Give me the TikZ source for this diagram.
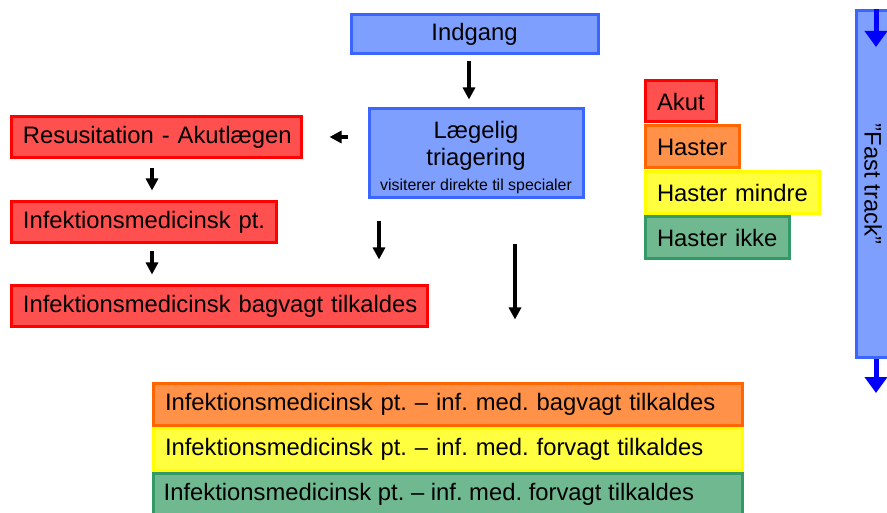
\documentclass[tikz,border=0pt]{standalone}
\usepackage{fontspec}
\setmainfont{Liberation Sans}
\usetikzlibrary{arrows.meta}
\definecolor{bfill}{HTML}{7F9FFF}
\definecolor{bdraw}{HTML}{3A66FF}
\definecolor{rfill}{HTML}{FF5050}
\definecolor{rdraw}{HTML}{FF0000}
\definecolor{ofill}{HTML}{FF9148}
\definecolor{odraw}{HTML}{FF6600}
\definecolor{yfill}{HTML}{FFFF40}
\definecolor{ydraw}{HTML}{FFFF00}
\definecolor{gfill}{HTML}{70B890}
\definecolor{gdraw}{HTML}{339966}
\definecolor{ftarrow}{HTML}{0000FF}
\frenchspacing
\tikzset{
  box/.style={draw, line width=3pt, rectangle, inner sep=0pt, anchor=north west,
    font=\fontsize{23.8}{27}\selectfont},
  lbox/.style={box, inner xsep=12pt, align=left},
  bluebox/.style={box, fill=bfill, draw=bdraw, align=center},
  redbox/.style={lbox, fill=rfill, draw=rdraw},
  orangebox/.style={lbox, fill=ofill, draw=odraw},
  yellowbox/.style={lbox, fill=yfill, draw=ydraw},
  greenbox/.style={lbox, fill=gfill, draw=gdraw},
  arr/.style={line width=3.2pt, -{Triangle[width=12pt,length=12pt]}},
  ftarr/.style={ftarrow, line width=5pt, -{Triangle[width=22pt,length=16pt]}},
}
\begin{document}
\begin{tikzpicture}[x=1pt,y=-1pt]
\clip (0,0) rectangle (887,513);
\useasboundingbox (0,0) rectangle (887,513);

% blue boxes
\node[bluebox, minimum width=247pt, minimum height=39pt] (ind) at (349.5,13.5) {Indgang};
\node[bluebox, minimum width=214pt, minimum height=89pt] (tri) at (367.5,107.5)
  {\rule{0pt}{25pt}L\ae gelig\\triagering\\[-2pt]{\fontsize{15.9}{18}\selectfont visiterer direkte til specialer}};

% red column
\node[redbox, minimum height=41pt, text width=266pt] (res) at (9.5,115.5) {\mbox{Resusitation - Akutl\ae gen}};
\node[redbox, minimum height=41pt, text width=241pt] (inf) at (9.5,200.5) {\mbox{Infektionsmedicinsk pt.}};
\node[redbox, minimum height=41pt, text width=392pt] (bag) at (9.5,284.5) {\mbox{Infektionsmedicinsk bagvagt tilkaldes}};

% legend
\node[redbox, minimum height=41pt, text width=47pt] (akut) at (643.5,79.5) {\mbox{Akut}};
\node[orangebox, minimum height=42pt, text width=70pt] (hast) at (643.5,124.5) {\mbox{Haster}};
\node[yellowbox, minimum height=42pt, text width=150pt] (hmin) at (643.5,170.5) {\mbox{Haster mindre}};
\node[greenbox, minimum height=42pt, text width=120pt] (hikk) at (643.5,215.5) {\mbox{Haster ikke}};

% bottom boxes
\node[greenbox, minimum height=60pt, text width=565pt] (bgreen) at (151.5,471.5) {};
\node[anchor=west, inner sep=0pt, font=\fontsize{23.8}{27}\selectfont] (bgreent) at (163.5,494) {Infektionsmedicinsk pt. -- inf. med. forvagt tilkaldes};
\node[yellowbox, minimum height=42pt, text width=565pt] (byel) at (151.5,426.5) {\mbox{Infektionsmedicinsk pt. -- inf. med. forvagt tilkaldes}};
\node[orangebox, minimum height=42pt, text width=565pt] (bor) at (151.5,381.5) {\mbox{Infektionsmedicinsk pt. -- inf. med. bagvagt tilkaldes}};

% fast track
\node[box, fill=bfill, draw=bdraw, minimum width=60pt, minimum height=346pt] (ft) at (854.5,9.5) {};
\node[rotate=-90, font=\fontsize{23.8}{27}\selectfont] (ftl) at (873,184) {”Fast track”};
\coordinate (fttop) at (876,47);
\coordinate (ftbot) at (876,393);
\draw[ftarr] (ft.north -| fttop) -- (fttop);
\draw[ftarr] (ft.south -| ftbot) -- (ftbot);

% arrows
\draw[arr, shorten <=6pt, shorten >=8pt] (ind.south -| 469,0) -- (tri.north -| 469,0);
\draw[arr, shorten <=20pt, shorten >=27pt] (tri.west |- 0,137) -- (res.east |- 0,137);
\draw[arr, shorten <=9pt, shorten >=10pt] (res.south -| 152,0) -- (inf.north -| 152,0);
\draw[arr, shorten <=7pt, shorten >=10pt] (inf.south -| 152,0) -- (bag.north -| 152,0);
\draw[arr, shorten <=22pt, shorten >=25pt] (tri.south -| 379,0) -- (bag.north -| 379,0);
\draw[arr, shorten <=45pt, shorten >=62pt] (tri.south -| 515,0) -- (bor.north -| 515,0);
\end{tikzpicture}
\end{document}
